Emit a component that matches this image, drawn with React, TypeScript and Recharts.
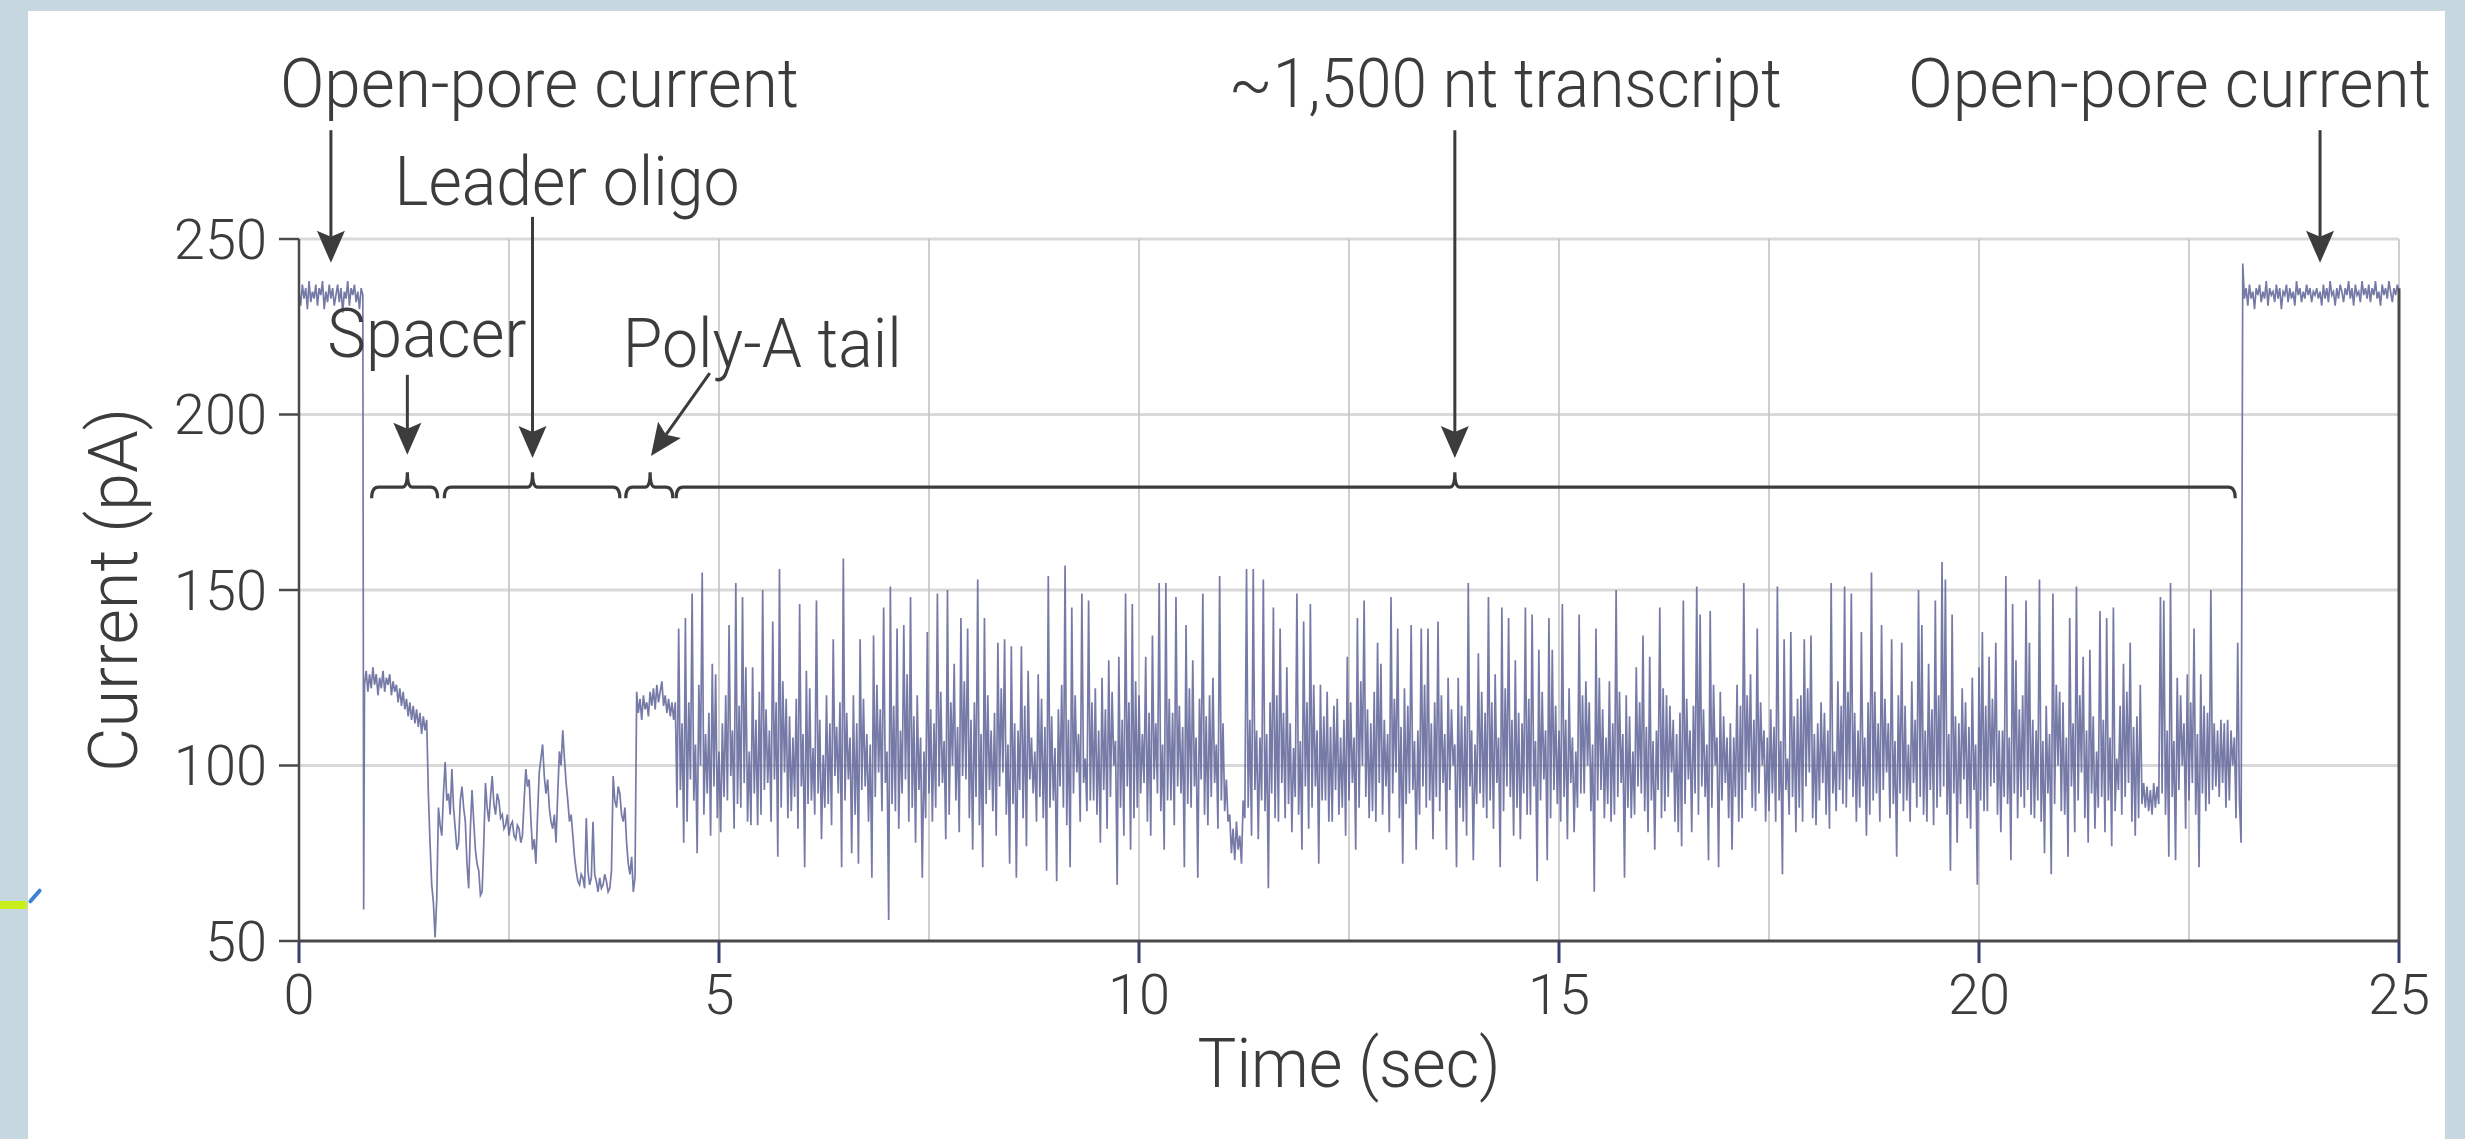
import { CartesianGrid, Label, Line, LineChart, ReferenceLine, XAxis, YAxis } from 'recharts';

const FONT = "Roboto, 'Liberation Sans', Arial, sans-serif";
const INK = '#3c3c3c';
const AXIS = '#4a4a4a';
const TRACE = '#676c9c';
const PAGE_BG = '#c7d7e0';

const X_TICKS = [0, 5, 10, 15, 20, 25];
const Y_TICKS = [50, 100, 150, 200, 250];
const X_GRID = [2.5, 5, 7.5, 10, 12.5, 15, 17.5, 20, 22.5, 25];
const Y_GRID = [100, 150, 200, 250];

const STEP = 0.02;

const OPEN_PORE_START_T = 0;
const OPEN_PORE_START = [
  235, 231, 237, 233, 236, 230, 238, 232, 235, 233, 237, 231, 236, 234, 238, 230, 235, 232, 237, 233,
  236, 231, 234, 237, 232, 236, 229, 235, 233, 238, 231, 236, 234, 237, 232, 235, 230, 236, 234,
];

const CAPTURE_T = 0.77;
const CAPTURE = [59];

const SPACER_T = 0.78;
const SPACER = [
  123, 127, 121, 126, 122, 128, 123, 126, 120, 125, 122, 127, 121, 125, 123, 126, 120, 124, 121, 123,
  118, 122, 117, 121, 116, 119, 114, 118, 113, 117, 112, 116, 111, 115, 109, 114, 110, 113,
];

const LEADER_T = 1.54;
const LEADER = [
  92, 78, 66, 61, 51, 62, 88, 83, 80, 92, 101, 90, 92, 86, 99, 88, 82, 76, 78, 90,
  94, 88, 84, 72, 65, 82, 93, 84, 76, 72, 70, 63, 64, 78, 95, 88, 84, 91, 97, 89,
  86, 92, 90, 85, 86, 82, 83, 86, 80, 83, 84, 80, 79, 83, 82, 78, 80, 90, 99, 94,
  96, 85, 76, 79, 72, 86, 98, 102, 106, 97, 92, 96, 88, 84, 82, 86, 78, 92, 104, 100,
  110, 102, 95, 90, 84, 86, 80, 74, 70, 67, 66, 69, 68, 65, 85, 70, 66, 68, 84, 69,
  67, 64, 68, 65, 66, 69, 67, 64, 65, 70, 97, 90, 88, 94, 92, 86, 84, 88, 78, 72,
  69, 74, 64, 68,
];

const POLY_A_T = 4.02;
const POLY_A = [121, 115, 119, 113, 120, 116, 118, 114, 121, 117, 122, 116, 123, 118, 121, 124, 117, 120, 115, 119, 114, 118, 113];

const TRANSCRIPT_T = 4.48;
const TRANSCRIPT = [
  118, 88, 139, 93, 112, 78, 142, 84, 118, 96, 149, 90, 106, 75, 123, 100, 155, 86, 109, 92, 115, 80, 129, 94, 126, 85, 104, 81, 112, 91, 120, 90, 140, 97, 110, 82, 152, 89, 117, 88, 148, 95, 128, 84, 104, 83, 128, 92, 113, 83,
  121, 86, 150, 93, 116, 95, 110, 84, 141, 96, 118, 74, 156, 88, 124, 98, 119, 85, 114, 87, 108, 91, 119, 82, 146, 94, 109, 71, 127, 89, 122, 90, 105, 86, 147, 92, 113, 79, 103, 88, 120, 89, 112, 83, 136, 97, 111, 92, 118, 71,
  159, 90, 115, 96, 108, 75, 120, 86, 112, 72, 136, 93, 119, 94, 109, 84, 106, 68, 137, 91, 123, 98, 116, 87, 145, 95, 104, 56, 151, 89, 117, 87, 139, 82, 110, 92, 140, 96, 126, 84, 148, 88, 114, 78, 120, 93, 108, 68, 104, 85,
  138, 92, 116, 84, 112, 88, 149, 94, 121, 95, 107, 79, 150, 86, 118, 100, 129, 90, 111, 81, 142, 97, 124, 96, 139, 85, 113, 76, 118, 91, 153, 83, 109, 71, 142, 89, 120, 93, 110, 87, 115, 80, 135, 94, 122, 98, 136, 86, 106, 72,
  134, 89, 112, 68, 110, 93, 134, 85, 117, 77, 127, 96, 108, 92, 104, 84, 126, 91, 119, 85, 111, 70, 154, 88, 114, 90, 105, 67, 116, 94, 123, 88, 157, 83, 113, 71, 145, 92, 120, 98, 109, 84, 149, 95, 102, 87, 147, 90, 118, 90,
  122, 86, 110, 78, 125, 93, 116, 82, 130, 91, 121, 100, 107, 66, 131, 88, 113, 80, 149, 94, 118, 76, 146, 85, 124, 88, 120, 92, 109, 95, 131, 84, 115, 80, 137, 96, 112, 92, 152, 87, 106, 76, 152, 90, 119, 90, 115, 83, 148, 94,
  117, 92, 111, 71, 140, 89, 122, 88, 130, 94, 108, 68, 119, 96, 149, 86, 114, 83, 120, 91, 125, 95, 106, 82, 154, 90, 112, 87, 96, 84, 86, 75, 82, 73, 84, 76, 80, 72, 90, 85, 156, 88, 113, 80, 156, 93, 110, 79, 108, 90,
  153, 87, 109, 65, 118, 92, 145, 85, 120, 84, 139, 95, 115, 85, 128, 89, 112, 81, 105, 91, 149, 86, 107, 76, 141, 94, 118, 82, 146, 88, 123, 94, 110, 72, 123, 90, 114, 90, 121, 84, 111, 84, 117, 93, 119, 86, 108, 88, 113, 80,
  131, 90, 118, 95, 108, 76, 142, 88, 124, 100, 147, 91, 116, 85, 112, 87, 121, 84, 135, 95, 129, 86, 113, 94, 109, 81, 148, 92, 119, 98, 139, 85, 111, 72, 122, 89, 117, 92, 140, 93, 107, 76, 110, 86, 139, 94, 123, 88, 139, 90,
  112, 79, 118, 91, 141, 87, 120, 95, 109, 76, 125, 93, 116, 100, 106, 71, 125, 88, 117, 84, 114, 80, 152, 94, 110, 73, 106, 89, 132, 92, 121, 88, 115, 85, 148, 90, 118, 82, 126, 95, 108, 71, 145, 87, 122, 94, 142, 91, 113, 80,
  130, 88, 115, 79, 112, 92, 145, 86, 119, 86, 143, 94, 107, 67, 133, 90, 121, 96, 110, 73, 142, 85, 133, 93, 117, 89, 110, 84, 146, 91, 113, 79, 122, 95, 108, 81, 104, 88, 143, 92, 120, 92, 124, 100, 118, 87, 106, 64, 139, 90,
  125, 93, 116, 85, 108, 89, 124, 84, 112, 86, 150, 91, 121, 95, 109, 68, 120, 88, 114, 85, 104, 86, 128, 94, 118, 92, 137, 87, 111, 81, 131, 90, 107, 76, 110, 93, 145, 85, 122, 87, 120, 91, 117, 98, 113, 84, 109, 81, 115, 77,
  147, 89, 119, 96, 110, 81, 117, 92, 151, 86, 143, 94, 116, 91, 106, 73, 144, 88, 123, 100, 108, 71, 121, 90, 114, 95, 108, 85, 112, 76, 108, 91, 123, 84, 117, 85, 152, 93, 120, 98, 126, 88, 113, 87, 139, 92, 118, 100, 110, 84,
  108, 87, 116, 92, 111, 84, 151, 90, 107, 69, 136, 93, 102, 86, 138, 91, 114, 81, 119, 88, 120, 84, 136, 94, 122, 98, 137, 85, 109, 83, 112, 90, 118, 95, 115, 86, 110, 82, 152, 92, 104, 87, 124, 93, 117, 89, 151, 88, 121, 96,
  149, 91, 115, 84, 110, 88, 138, 94, 108, 80, 118, 86, 155, 90, 121, 92, 112, 84, 140, 93, 119, 98, 112, 85, 136, 89, 107, 74, 120, 92, 135, 87, 117, 90, 106, 84, 124, 95, 113, 88, 150, 91, 140, 86, 110, 84, 129, 93, 116, 83,
  147, 88, 120, 91, 158, 94, 153, 86, 109, 70, 143, 92, 114, 78, 112, 89, 122, 96, 118, 85, 111, 82, 125, 93, 106, 66, 128, 90, 138, 87, 117, 87, 131, 94, 119, 95, 135, 86, 110, 81, 110, 91, 154, 89, 108, 73, 146, 92, 130, 85,
  116, 91, 120, 88, 147, 93, 135, 86, 113, 85, 110, 90, 153, 84, 107, 75, 117, 92, 109, 69, 149, 89, 123, 100, 121, 87, 118, 86, 108, 74, 142, 94, 112, 81, 151, 90, 120, 98, 131, 85, 110, 78, 133, 92, 114, 82, 104, 88, 144, 91,
  113, 81, 142, 90, 108, 77, 145, 87, 102, 93, 117, 86, 129, 91, 121, 95, 135, 84, 111, 80, 114, 85, 123, 89, 95, 88, 94, 87, 93, 86, 95, 88, 94, 89, 148, 92, 147, 86, 110, 74, 152, 91, 107, 73, 125, 93, 120, 100, 112, 82,
  126, 90, 118, 95, 139, 86, 109, 71, 126, 92, 117, 87, 115, 89, 150, 93, 112, 94, 110, 91, 113, 95, 112, 88, 113, 90, 110, 100, 108, 85, 135, 90, 78,
];

const OPEN_PORE_END_T = 23.14;
const OPEN_PORE_END = [
  243, 233, 236, 231, 237, 233, 235, 230, 236, 234, 237, 232, 235, 233, 238, 231, 236, 234, 235, 232,
  237, 233, 236, 230, 235, 234, 237, 232, 236, 233, 235, 231, 238, 234, 236, 232, 235, 233, 237, 234,
  236, 232, 235, 234, 236, 233, 235, 231, 237, 233, 236, 232, 238, 234, 235, 231, 236, 233, 237, 235,
  232, 236, 234, 238, 233, 236, 231, 237, 234, 235, 232, 238, 234, 236, 233, 237, 232, 236, 234, 238,
  233, 235, 231, 237, 234, 236, 233, 238, 235, 232, 236, 234, 237, 235,
];

type Pt = { t: number; v: number };
const sampled = (start: number, values: number[]): Pt[] =>
  values.map((v, i) => ({ t: Math.round((start + i * STEP) * 1000) / 1000, v }));

const TRACE_DATA: Pt[] = [
  ...sampled(OPEN_PORE_START_T, OPEN_PORE_START),
  ...sampled(CAPTURE_T, CAPTURE),
  ...sampled(SPACER_T, SPACER),
  ...sampled(LEADER_T, LEADER),
  ...sampled(POLY_A_T, POLY_A),
  ...sampled(TRANSCRIPT_T, TRANSCRIPT),
  ...sampled(OPEN_PORE_END_T, OPEN_PORE_END),
];

// braces marking the read regions (sec), with the point that the arrow hits
const BRACE_LEVEL = 179.3;
const BRACES = [
  { from: 0.865, to: 1.65, mid: 1.29 },
  { from: 1.73, to: 3.82, mid: 2.78 },
  { from: 3.89, to: 4.45, mid: 4.18 },
  { from: 4.49, to: 23.05, mid: 13.76 },
];

// arrows: start / tip in data units, text placed relative to the arrow start
const ANNOTATIONS = [
  { label: 'Open-pore current', from: [0.38, 281], to: [0.38, 243.2], dx: -51, dy: -23, w: 519 },
  { label: 'Leader oligo', from: [2.78, 256.3], to: [2.78, 187.6], dx: -138, dy: -12, w: 345 },
  { label: 'Spacer', from: [1.29, 211.3], to: [1.29, 188.5], dx: -80, dy: -18, w: 199 },
  { label: 'Poly-A tail', from: [4.89, 211.8], to: [4.19, 188.2], dx: -87, dy: -6, w: 279 },
  { label: '~1,500 nt transcript', from: [13.76, 281], to: [13.76, 187.6], dx: -226, dy: -23, w: 553 },
  { label: 'Open-pore current', from: [24.06, 281], to: [24.06, 243.2], dx: -412, dy: -23, w: 523 },
];

const textStyle = { fontFamily: FONT, fontWeight: 300, fill: INK };

const XTick = (p: any) => (
  <text x={p.x} y={p.y} dy="0.71em" textAnchor="middle" fontSize={56} {...textStyle}>
    {p.payload.value}
  </text>
);

const YTick = (p: any) => (
  <text x={p.x} y={p.y} dy="0.355em" textAnchor="end" fontSize={56} {...textStyle}>
    {p.payload.value}
  </text>
);

const XTitle = (p: any) => {
  const vb = p.viewBox;
  return (
    <text x={vb.x + vb.width / 2} y={vb.y + 146} textAnchor="middle" fontSize={68} textLength={303} lengthAdjust="spacingAndGlyphs" {...textStyle}>
      Time (sec)
    </text>
  );
};

const YTitle = (p: any) => {
  const vb = p.viewBox;
  const x = vb.x - 12;
  const y = vb.y + vb.height / 2;
  return (
    <text x={x} y={y} transform={`rotate(-90, ${x}, ${y})`} textAnchor="middle" fontSize={68} textLength={364} lengthAdjust="spacingAndGlyphs" {...textStyle}>
      Current (pA)
    </text>
  );
};

const braceShape = (b: { from: number; to: number; mid: number }) => (p: any) => {
  const { x1, x2, y1 } = p;
  const xm = x1 + ((x2 - x1) * (b.mid - b.from)) / (b.to - b.from);
  const y = y1;
  const hook = 11;
  const r = 7;
  const tip = 15;
  const d =
    `M${x1},${y + hook} Q${x1},${y} ${x1 + r},${y} L${xm - 5},${y} Q${xm},${y} ${xm},${y - tip} ` +
    `Q${xm},${y} ${xm + 5},${y} L${x2 - r},${y} Q${x2},${y} ${x2},${y + hook}`;
  return <path d={d} fill="none" stroke={INK} strokeWidth={3.2} />;
};

const arrowShape = (a: (typeof ANNOTATIONS)[number]) => (p: any) => {
  const { x1, y1, x2, y2 } = p;
  const ang = Math.atan2(y2 - y1, x2 - x1);
  const len = 32;
  const half = 14;
  const cx = Math.cos(ang);
  const sy = Math.sin(ang);
  const bx = x2 - len * cx;
  const by = y2 - len * sy;
  const nx = bx + 6 * cx;
  const ny = by + 6 * sy;
  const px = -sy * half;
  const py = cx * half;
  return (
    <g>
      <line x1={x1} y1={y1} x2={nx} y2={ny} stroke={INK} strokeWidth={3} />
      <path d={`M${x2},${y2} L${bx + px},${by + py} L${nx},${ny} L${bx - px},${by - py} Z`} fill={INK} />
      <text x={x1 + a.dx} y={y1 + a.dy} fontSize={68} textLength={a.w} lengthAdjust="spacingAndGlyphs" {...textStyle}>
        {a.label}
      </text>
    </g>
  );
};

export default function App() {
  return (
    <div style={{ position: 'absolute', left: 0, top: 0, width: 2465, height: 1139, background: PAGE_BG, overflow: 'hidden' }}>
      <div style={{ position: 'absolute', left: 28, top: 11, width: 2417, height: 1128, background: '#fff' }} />
      <div style={{ position: 'absolute', left: 0, top: 901, width: 27, height: 8, background: '#c8ee1c' }} />
      <div style={{ position: 'absolute', left: 26, top: 894, width: 18, height: 4, borderRadius: 2, background: '#3f82d2', transform: 'rotate(-49deg)' }} />
      <div style={{ position: 'absolute', left: 0, top: 0 }}>
        <LineChart width={2465} height={1139} data={TRACE_DATA} margin={{ top: 239, right: 66, bottom: 98, left: 149 }}>
          <CartesianGrid vertical={false} horizontalValues={Y_GRID} stroke="#d9d9d9" strokeWidth={3} />
          <CartesianGrid horizontal={false} verticalValues={X_GRID} stroke="#c4c4c4" strokeWidth={1.6} />
          <XAxis
            type="number"
            dataKey="t"
            domain={[0, 25]}
            ticks={X_TICKS}
            allowDataOverflow
            height={100}
            axisLine={{ stroke: AXIS, strokeWidth: 3 }}
            tickLine={{ stroke: '#3a3e6c', strokeWidth: 3 }}
            tickSize={22}
            tickMargin={11}
            tick={(p: any) => <XTick {...p} />}
            label={<Label content={XTitle} />}
          />
          <YAxis
            type="number"
            domain={[50, 250]}
            ticks={Y_TICKS}
            allowDataOverflow
            width={150}
            axisLine={{ stroke: AXIS, strokeWidth: 2.5 }}
            tickLine={{ stroke: AXIS, strokeWidth: 2.5 }}
            tickSize={20}
            tickMargin={12}
            tick={(p: any) => <YTick {...p} />}
            label={<Label content={YTitle} />}
          />
          <Line
            type="linear"
            dataKey="v"
            stroke={TRACE}
            strokeWidth={1.7}
            strokeOpacity={0.9}
            dot={false}
            activeDot={false}
            isAnimationActive={false}
          />
          <ReferenceLine segment={[{ x: 25, y: 236 }, { x: 25, y: 50 }]} stroke={AXIS} strokeWidth={3} ifOverflow="visible" />
          {BRACES.map((b, i) => (
            <ReferenceLine
              key={`brace-${i}`}
              segment={[{ x: b.from, y: BRACE_LEVEL }, { x: b.to, y: BRACE_LEVEL }]}
              ifOverflow="visible"
              shape={braceShape(b)}
            />
          ))}
          {ANNOTATIONS.map((a, i) => (
            <ReferenceLine
              key={`note-${i}`}
              segment={[{ x: a.from[0], y: a.from[1] }, { x: a.to[0], y: a.to[1] }]}
              ifOverflow="visible"
              shape={arrowShape(a)}
            />
          ))}
        </LineChart>
      </div>
    </div>
  );
}
